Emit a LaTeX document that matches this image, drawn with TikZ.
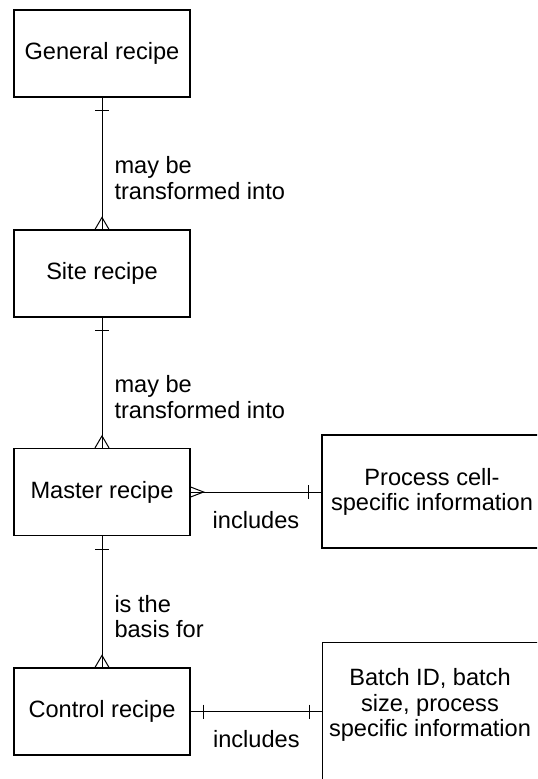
\documentclass[tikz,border=0pt]{standalone}
\usepackage{fontspec}
\setmainfont{Liberation Sans}
\begin{document}
\begin{tikzpicture}[x=0.5pt,y=-0.5pt]

\tikzset{
recipe/.style={rectangle,draw,line width=0.6pt,minimum width=88pt,minimum height=43.5pt,inner sep=0pt},
info/.style={rectangle,draw,line width=0.6pt,minimum width=110pt,inner sep=0pt,align=center},
link/.style={line width=0.5pt},
lbl/.style={align=left,inner sep=0pt},
font={\fontsize{11.8pt}{12.6pt}\selectfont}
}
\useasboundingbox (0,0) rectangle (537,779);
\clip (0,0) rectangle (537,779);

% recipes
\node[recipe] (gen)  at (102,53.5)  {General recipe};
\node[recipe] (site) at (102,273.5) {Site recipe};
\node[recipe] (mast) at (102,492)   {Master recipe};
\node[recipe] (ctrl) at (102,711.5) {Control recipe};

% information
\node[info, minimum height=56.5pt] (cell) at (432,491.5) {Process cell-\\specific information};
\node[info, minimum height=90pt, anchor=north west] (batch) at (322,642) {};
\node[align=center] (batchtxt) at (430,705) {Batch ID, batch\\size, process\\specific information};

%edges
\path[link]
%   FROM    TO                       LABEL
(gen)  edge node[lbl, right=6pt, pos=0.61] {may be\\transformed into} (site)
(site) edge node[lbl, right=6pt, pos=0.61] {may be\\transformed into} (mast)
(mast) edge node[lbl, right=6pt, pos=0.61] {is the\\basis for} (ctrl)
(mast.east) edge node[below=6pt, midway] {includes} (mast.east -| cell.west)
(ctrl.east) edge node[below=6pt, midway] {includes} (ctrl.east -| batch.west)
;

% one ends
\draw[link] (gen.south)  ++(-7,13) -- ++(14,0);
\draw[link] (site.south) ++(-7,13) -- ++(14,0);
\draw[link] (mast.south) ++(-7,13) -- ++(14,0);
\draw[link] (mast.east -| cell.west)   ++(-13,-7) -- ++(0,14);
\draw[link] (ctrl.east)                ++(13,-7)  -- ++(0,14);
\draw[link] (ctrl.east -| batch.west)  ++(-13,-7) -- ++(0,14);

% many ends
\draw[link] (site.north) ++(-7,0) -- ++(7,-12) -- ++(7,12);
\draw[link] (mast.north) ++(-7,0) -- ++(7,-12) -- ++(7,12);
\draw[link] (ctrl.north) ++(-7,0) -- ++(7,-12) -- ++(7,12);
\draw[link] (mast.east)  ++(0,-5) -- ++(13,5) -- ++(-13,5);

\end{tikzpicture}
\end{document}
